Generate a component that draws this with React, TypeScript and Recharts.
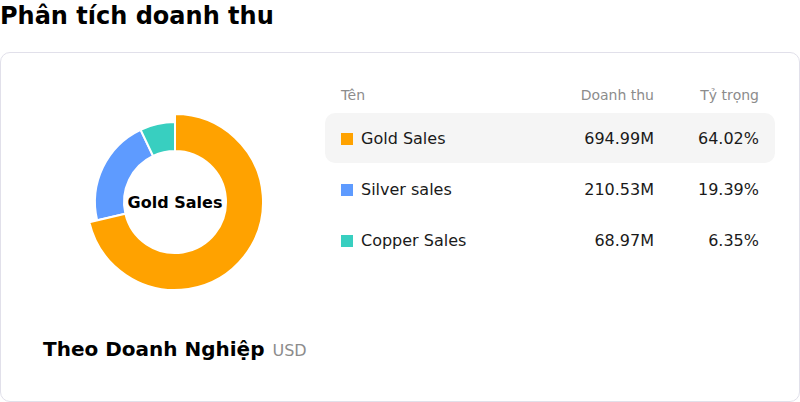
import React from "react";
import { PieChart, Pie, Cell } from "recharts";

const categories = ["Gold Sales", "Silver sales", "Copper Sales"];
const revenue = [694.99, 210.53, 68.97];
const revenueLabels = ["694.99M", "210.53M", "68.97M"];
const shareLabels = ["64.02%", "19.39%", "6.35%"];
const colors = ["#FFA200", "#5E9BFF", "#38CFC0"];

const data = categories.map((name, i) => ({ name, value: revenue[i] }));

const FONT = "'DejaVu Sans', sans-serif";

export default function App() {
  return (
    <div style={{ position: "relative", width: 800, height: 402, fontFamily: FONT, background: "#fff", overflow: "hidden" }}>
      <style>{`body{margin:0;}`}</style>
      <div style={{ position: "absolute", left: 0, top: 1, fontSize: 24, fontWeight: 700, color: "#000", lineHeight: "30px" }}>
        Phân tích doanh thu
      </div>
      <div
        style={{
          position: "absolute",
          left: 0,
          top: 52,
          width: 798,
          height: 348,
          border: "1px solid #e1e0ea",
          borderRadius: 10,
          boxSizing: "content-box",
        }}
      />
      <div style={{ position: "absolute", left: 0, top: 52 }}>
        <PieChart width={350} height={300} margin={{ top: 0, right: 0, bottom: 0, left: 0 }}>
          <Pie
            data={data}
            dataKey="value"
            nameKey="name"
            cx={175}
            cy={150}
            innerRadius={51}
            outerRadius={80}
            startAngle={90}
            endAngle={-270}
            stroke="#fff"
            strokeWidth={2}
            isAnimationActive={false}
          >
            {data.map((d, i) => (
              <Cell key={d.name} fill={colors[i]} />
            ))}
          </Pie>
          <Pie
            data={data}
            dataKey="value"
            nameKey="name"
            cx={175}
            cy={150}
            innerRadius={51}
            outerRadius={88}
            startAngle={90}
            endAngle={-270}
            isAnimationActive={false}
          >
            {data.map((d, i) => (
              <Cell
                key={d.name}
                fill={i === 0 ? colors[0] : "transparent"}
                stroke={i === 0 ? "#fff" : "none"}
                strokeWidth={i === 0 ? 2 : 0}
              />
            ))}
          </Pie>
          <text x={175} y={150} textAnchor="middle" dominantBaseline="central" style={{ fontFamily: FONT, fontSize: 16, fontWeight: 700, fill: "#000" }}>
            {categories[0]}
          </text>
        </PieChart>
      </div>
      <div style={{ position: "absolute", left: 43, top: 335, fontSize: 20, fontWeight: 700, color: "#000", lineHeight: "28px", whiteSpace: "nowrap" }}>
        Theo Doanh Nghiệp
        <span style={{ fontSize: 16, fontWeight: 400, color: "#8c8c8c", marginLeft: 8 }}>USD</span>
      </div>
      {/* table */}
      <div style={{ position: "absolute", left: 341, top: 86, fontSize: 14, color: "#8c8c8c", lineHeight: "18px" }}>Tên</div>
      <div style={{ position: "absolute", right: 800 - 654, top: 86, fontSize: 14, color: "#8c8c8c", lineHeight: "18px" }}>Doanh thu</div>
      <div style={{ position: "absolute", right: 800 - 759, top: 86, fontSize: 14, color: "#8c8c8c", lineHeight: "18px" }}>Tỷ trọng</div>
      {categories.map((name, i) => {
        const top = 113 + i * 51;
        return (
          <div key={name}>
            {i === 0 && (
              <div style={{ position: "absolute", left: 325, top, width: 450, height: 50, background: "#f5f5f5", borderRadius: 10 }} />
            )}
            <div style={{ position: "absolute", left: 341, top: top + 20, width: 12, height: 12, background: colors[i] }} />
            <div style={{ position: "absolute", left: 361, top: top + 14, fontSize: 16, color: "#1a1a1a", lineHeight: "24px" }}>{name}</div>
            <div style={{ position: "absolute", right: 800 - 654, top: top + 14, fontSize: 16, color: "#1a1a1a", lineHeight: "24px" }}>{revenueLabels[i]}</div>
            <div style={{ position: "absolute", right: 800 - 759, top: top + 14, fontSize: 16, color: "#1a1a1a", lineHeight: "24px" }}>{shareLabels[i]}</div>
          </div>
        );
      })}
    </div>
  );
}
